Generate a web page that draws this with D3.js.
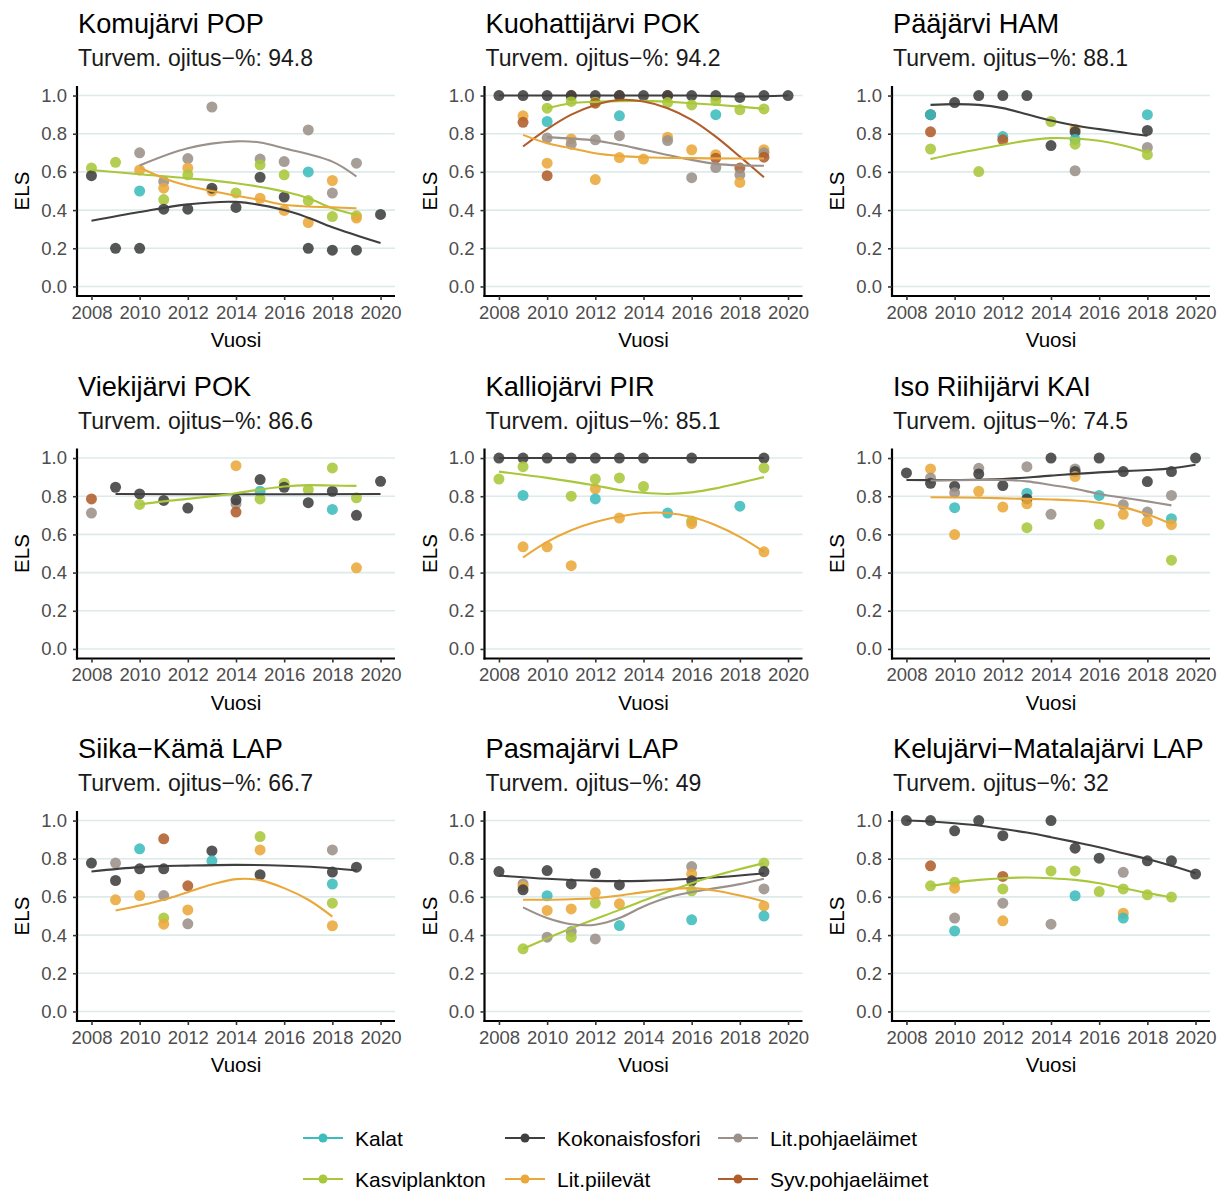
<!DOCTYPE html>
<html>
<head>
<meta charset="utf-8">
<title>ELS by lake</title>
<script src="https://cdn.jsdelivr.net/npm/d3@7"></script>
<style>
  body { margin: 0; background: #fff; font-family: "Liberation Sans", Arial, sans-serif; }
</style>
</head>
<body>
<script>
// ---- data ----
var lakes = ["Komujärvi POP", "Kuohattijärvi POK", "Pääjärvi HAM",
             "Viekijärvi POK", "Kalliojärvi PIR", "Iso Riihijärvi KAI",
             "Siika−Kämä LAP", "Pasmajärvi LAP", "Kelujärvi−Matalajärvi LAP"];
var drainPct = ["94.8", "94.2", "88.1", "86.6", "85.1", "74.5", "66.7", "49", "32"];

// group keys and names (legend order, column-wise)
var groupKeys  = ["Ka", "Kv", "Ko", "Pi", "Po", "Sy"];
var groupNames = ["Kalat", "Kasviplankton", "Kokonaisfosfori", "Lit.piilevät", "Lit.pohjaeläimet", "Syv.pohjaeläimet"];
var groupColors = ["#3dbcbc", "#a9c73b", "#3f3f3f", "#eba83a", "#9b918a", "#b05d2b"];

var xTicks = [2008, 2010, 2012, 2014, 2016, 2018, 2020];
var yTicks = [0, 0.2, 0.4, 0.6, 0.8, 1.0];

// points: [year, group, ELS]
var komuPts = [[2008,"Kv",.62],[2008,"Ko",.58],[2009,"Kv",.65],[2009,"Ko",.20],
  [2010,"Po",.70],[2010,"Pi",.61],[2010,"Ka",.50],[2010,"Ko",.20],
  [2011,"Po",.55],[2011,"Pi",.515],[2011,"Kv",.455],[2011,"Ko",.405],
  [2012,"Po",.67],[2012,"Pi",.62],[2012,"Kv",.585],[2012,"Ko",.405],
  [2013,"Po",.94],[2013,"Pi",.50],[2013,"Ko",.515],
  [2014,"Kv",.49],[2014,"Ko",.414],
  [2015,"Po",.667],[2015,"Kv",.637],[2015,"Ko",.572],[2015,"Pi",.462],
  [2016,"Po",.654],[2016,"Kv",.585],[2016,"Ko",.468],[2016,"Pi",.398],
  [2017,"Po",.82],[2017,"Ka",.60],[2017,"Kv",.45],[2017,"Pi",.335],[2017,"Ko",.20],
  [2018,"Pi",.555],[2018,"Po",.489],[2018,"Kv",.366],[2018,"Ko",.19],
  [2019,"Po",.646],[2019,"Kv",.37],[2019,"Pi",.358],[2019,"Ko",.19],
  [2020,"Ko",.377]];
var kuohPts = [[2008,"Ko",1],[2009,"Ko",1],[2009,"Pi",.894],[2009,"Sy",.86],
  [2010,"Ko",1],[2010,"Kv",.934],[2010,"Ka",.864],[2010,"Po",.777],[2010,"Pi",.646],[2010,"Sy",.58],
  [2011,"Sy",1],[2011,"Ko",1],[2011,"Kv",.969],[2011,"Pi",.773],[2011,"Po",.745],
  [2012,"Ko",1],[2012,"Kv",.965],[2012,"Sy",.96],[2012,"Po",.768],[2012,"Pi",.56],
  [2013,"Sy",1],[2013,"Ko",1],[2013,"Ka",.894],[2013,"Po",.79],[2013,"Pi",.675],
  [2014,"Ko",1],[2014,"Pi",.667],
  [2015,"Sy",1],[2015,"Ko",1],[2015,"Kv",.963],[2015,"Pi",.782],[2015,"Po",.764],
  [2016,"Ko",1],[2016,"Kv",.951],[2016,"Pi",.716],[2016,"Po",.57],
  [2017,"Ko",1],[2017,"Kv",.974],[2017,"Ka",.90],[2017,"Pi",.69],[2017,"Sy",.672],[2017,"Po",.623],
  [2018,"Ko",.99],[2018,"Kv",.925],[2018,"Sy",.62],[2018,"Po",.585],[2018,"Pi",.545],
  [2019,"Ko",1],[2019,"Kv",.93],[2019,"Pi",.716],[2019,"Po",.70],[2019,"Sy",.677],
  [2020,"Ko",1]];
var paajPts = [[2009,"Ko",.90],[2009,"Ka",.90],[2009,"Sy",.81],[2009,"Kv",.72],
  [2010,"Ko",.963],[2011,"Ko",1],[2011,"Kv",.602],
  [2012,"Ko",1],[2012,"Ka",.785],[2012,"Sy",.768],[2013,"Ko",1],
  [2014,"Kv",.864],[2014,"Ko",.738],
  [2015,"Pi",.824],[2015,"Ko",.81],[2015,"Ka",.77],[2015,"Kv",.745],[2015,"Po",.606],
  [2018,"Ka",.90],[2018,"Ko",.817],[2018,"Po",.728],[2018,"Kv",.69]];
var viekPts = [[2008,"Sy",.786],[2008,"Po",.712],[2009,"Ko",.847],
  [2010,"Ko",.812],[2010,"Kv",.757],[2011,"Ko",.778],[2012,"Ko",.738],
  [2014,"Pi",.96],[2014,"Po",.76],[2014,"Ko",.781],[2014,"Sy",.717],
  [2015,"Ko",.887],[2015,"Ka",.826],[2015,"Kv",.786],
  [2016,"Kv",.868],[2016,"Ko",.847],[2017,"Kv",.835],[2017,"Ko",.766],
  [2018,"Kv",.948],[2018,"Ko",.826],[2018,"Ka",.731],
  [2019,"Kv",.792],[2019,"Ko",.70],[2019,"Pi",.425],[2020,"Ko",.878]];
var kallPts = [[2008,"Ko",1],[2008,"Kv",.89],
  [2009,"Ko",1],[2009,"Kv",.955],[2009,"Ka",.804],[2009,"Pi",.535],
  [2010,"Ko",1],[2010,"Pi",.535],
  [2011,"Ko",1],[2011,"Kv",.80],[2011,"Pi",.436],
  [2012,"Ko",1],[2012,"Kv",.89],[2012,"Pi",.839],[2012,"Ka",.786],
  [2013,"Ko",1],[2013,"Kv",.896],[2013,"Pi",.686],
  [2014,"Ko",1],[2014,"Kv",.851],[2015,"Ka",.712],
  [2016,"Ko",1],[2016,"Kv",.67],[2016,"Pi",.656],[2018,"Ka",.748],
  [2019,"Ko",1],[2019,"Kv",.948],[2019,"Pi",.509]];
var isoPts = [[2008,"Ko",.922],
  [2009,"Pi",.943],[2009,"Po",.896],[2009,"Ko",.868],
  [2010,"Ko",.852],[2010,"Po",.818],[2010,"Ka",.74],[2010,"Pi",.599],
  [2011,"Po",.946],[2011,"Ko",.917],[2011,"Pi",.826],
  [2012,"Ko",.856],[2012,"Pi",.743],
  [2013,"Po",.955],[2013,"Ka",.816],[2013,"Ko",.786],[2013,"Pi",.76],[2013,"Kv",.635],
  [2014,"Ko",1],[2014,"Po",.705],
  [2015,"Po",.943],[2015,"Ko",.929],[2015,"Pi",.903],
  [2016,"Ko",1],[2016,"Ka",.804],[2016,"Kv",.653],
  [2017,"Ko",.929],[2017,"Po",.755],[2017,"Pi",.705],
  [2018,"Ko",.877],[2018,"Po",.717],[2018,"Pi",.668],
  [2019,"Ko",.929],[2019,"Po",.804],[2019,"Ka",.682],[2019,"Pi",.651],[2019,"Kv",.465],
  [2020,"Ko",1]];
var siikPts = [[2008,"Ko",.777],
  [2009,"Po",.777],[2009,"Ko",.686],[2009,"Pi",.585],
  [2010,"Ka",.852],[2010,"Ko",.747],[2010,"Pi",.607],
  [2011,"Sy",.904],[2011,"Ko",.747],[2011,"Po",.607],[2011,"Kv",.489],[2011,"Pi",.457],
  [2012,"Sy",.658],[2012,"Pi",.532],[2012,"Po",.459],
  [2013,"Ko",.841],[2013,"Ka",.789],
  [2015,"Kv",.916],[2015,"Pi",.846],[2015,"Ko",.716],
  [2018,"Po",.846],[2018,"Ko",.73],[2018,"Ka",.667],[2018,"Kv",.567],[2018,"Pi",.449],
  [2019,"Ko",.756]];
var pasmPts = [[2008,"Ko",.733],
  [2009,"Po",.668],[2009,"Pi",.654],[2009,"Ko",.637],[2009,"Kv",.328],
  [2010,"Ko",.738],[2010,"Ka",.606],[2010,"Pi",.529],[2010,"Po",.389],
  [2011,"Ko",.668],[2011,"Pi",.537],[2011,"Po",.419],[2011,"Kv",.389],
  [2012,"Ko",.724],[2012,"Pi",.623],[2012,"Kv",.567],[2012,"Po",.38],
  [2013,"Ko",.663],[2013,"Pi",.564],[2013,"Ka",.45],
  [2016,"Po",.759],[2016,"Pi",.72],[2016,"Ko",.684],[2016,"Kv",.632],[2016,"Ka",.48],
  [2019,"Kv",.777],[2019,"Ko",.733],[2019,"Po",.642],[2019,"Pi",.553],[2019,"Ka",.50]];
var keluPts = [[2008,"Ko",1],
  [2009,"Ko",1],[2009,"Sy",.763],[2009,"Kv",.658],
  [2010,"Ko",.946],[2010,"Kv",.677],[2010,"Pi",.646],[2010,"Po",.489],[2010,"Ka",.422],
  [2011,"Ko",1],
  [2012,"Ko",.921],[2012,"Sy",.707],[2012,"Kv",.642],[2012,"Po",.567],[2012,"Pi",.475],
  [2014,"Ko",1],[2014,"Kv",.736],[2014,"Po",.457],
  [2015,"Ko",.855],[2015,"Kv",.736],[2015,"Ka",.606],
  [2016,"Ko",.803],[2016,"Kv",.628],
  [2017,"Po",.729],[2017,"Kv",.642],[2017,"Pi",.515],[2017,"Ka",.489],
  [2018,"Ko",.789],[2018,"Kv",.611],
  [2019,"Ko",.789],[2019,"Kv",.599],
  [2020,"Ko",.72]];

// smoothed trend lines: group -> [[year, ELS], ...]
var komuFit = {
  Ko: [[2008,.344],[2010,.39],[2012,.43],[2014,.443],[2016,.40],[2017,.36],[2018,.31],[2020,.227]],
  Po: [[2010,.634],[2012,.724],[2014,.76],[2015,.754],[2016,.724],[2018,.654],[2019,.576]],
  Kv: [[2008,.61],[2010,.588],[2012,.567],[2014,.541],[2016,.497],[2017,.462],[2018,.41],[2019,.375]],
  Pi: [[2010,.623],[2011,.567],[2012,.527],[2013,.50],[2014,.475],[2015,.454],[2016,.428],[2017,.419],[2018,.414],[2019,.41]]};
var kuohFit = {
  Ko: [[2008,1],[2012,1],[2016,1],[2018,.995],[2020,1]],
  Kv: [[2010,.934],[2011,.96],[2012,.967],[2014,.972],[2016,.96],[2018,.942],[2019,.93]],
  Sy: [[2009,.733],[2010,.824],[2011,.90],[2012,.951],[2013,.977],[2014,.969],[2015,.934],[2016,.873],[2017,.785],[2018,.68],[2019,.572]],
  Po: [[2010,.782],[2012,.764],[2013,.742],[2014,.716],[2016,.663],[2017,.642],[2018,.634],[2019,.632]],
  Pi: [[2009,.794],[2010,.75],[2011,.724],[2012,.698],[2013,.684],[2014,.677],[2016,.672],[2018,.67],[2019,.67]]};
var paajFit = {
  Ko: [[2009,.951],[2010,.955],[2011,.951],[2012,.934],[2013,.902],[2014,.869],[2015,.843],[2016,.824],[2017,.806],[2018,.789]],
  Kv: [[2009,.667],[2010,.695],[2011,.719],[2012,.742],[2013,.764],[2014,.777],[2015,.775],[2016,.763],[2017,.738],[2018,.702]]};
var viekFit = {
  Ko: [[2009,.812],[2014,.81],[2020,.812]],
  Kv: [[2010,.757],[2011,.773],[2012,.786],[2013,.80],[2014,.816],[2015,.835],[2016,.851],[2017,.858],[2018,.856],[2019,.854]]};
var kallFit = {
  Ko: [[2008,1],[2013,1],[2019,1]],
  Kv: [[2008,.929],[2010,.896],[2012,.856],[2013,.833],[2014,.818],[2015,.812],[2016,.82],[2017,.841],[2018,.87],[2019,.90]],
  Pi: [[2009,.479],[2010,.561],[2011,.622],[2012,.665],[2013,.694],[2014,.712],[2015,.712],[2016,.691],[2017,.648],[2018,.587],[2019,.509]]};
var isoFit = {
  Ko: [[2008,.885],[2010,.885],[2012,.89],[2014,.908],[2016,.925],[2018,.937],[2019,.946],[2020,.965]],
  Po: [[2009,.882],[2011,.885],[2012,.885],[2013,.878],[2014,.859],[2015,.839],[2016,.812],[2017,.792],[2018,.773],[2019,.752]],
  Pi: [[2009,.795],[2011,.792],[2013,.786],[2014,.783],[2015,.778],[2016,.766],[2017,.743],[2018,.705],[2019,.653]]};
var siikFit = {
  Ko: [[2008,.733],[2010,.756],[2012,.764],[2014,.768],[2016,.763],[2018,.75],[2019,.738]],
  Pi: [[2009,.529],[2010,.555],[2011,.585],[2012,.625],[2013,.665],[2014,.693],[2015,.688],[2016,.646],[2017,.585],[2018,.497]]};
var pasmFit = {
  Ko: [[2008,.712],[2010,.695],[2012,.684],[2014,.684],[2016,.695],[2018,.712],[2019,.724]],
  Kv: [[2009,.328],[2011,.436],[2013,.532],[2015,.628],[2016,.672],[2017,.712],[2019,.777]],
  Po: [[2009,.545],[2010,.489],[2011,.457],[2012,.454],[2013,.489],[2014,.55],[2015,.597],[2016,.625],[2017,.646],[2018,.667],[2019,.695]],
  Pi: [[2009,.585],[2010,.585],[2011,.588],[2012,.593],[2013,.607],[2014,.625],[2015,.64],[2016,.646],[2017,.632],[2018,.607],[2019,.576]]};
var keluFit = {
  Ko: [[2008,1],[2009,.995],[2010,.986],[2011,.974],[2012,.956],[2013,.937],[2014,.913],[2015,.887],[2016,.86],[2017,.829],[2018,.798],[2019,.763],[2020,.724]],
  Kv: [[2009,.658],[2010,.675],[2011,.689],[2012,.698],[2013,.702],[2014,.698],[2015,.689],[2016,.672],[2017,.646],[2018,.62],[2019,.597]]};

var panelPts = [komuPts, kuohPts, paajPts, viekPts, kallPts, isoPts, siikPts, pasmPts, keluPts];
var panelFit = [komuFit, kuohFit, paajFit, viekFit, kallFit, isoFit, siikFit, pasmFit, keluFit];

// ---- layout ----
var W = 1231, H = 1193;
var plotW = 318, plotH = 210;
var colX = [77, 484.5, 892];
var rowY = [86, 448.5, 811];

var color = d3.scaleOrdinal().domain(groupKeys).range(groupColors);

var svg = d3.select("body").append("svg")
    .attr("width", W)
    .attr("height", H)
    .style("font-family", "'Liberation Sans', Arial, sans-serif");

var x = d3.scaleLinear().domain([2007.4, 2020.6]).range([0, plotW]);
var y = d3.scaleLinear().domain([-0.05, 1.05]).range([plotH, 0]);

var fitLine = d3.line()
    .x(function(d) { return x(d[0]); })
    .y(function(d) { return y(d[1]); })
    .curve(d3.curveCatmullRom.alpha(0.5));

lakes.forEach(function(lake, i) {
  var g = svg.append("g")
      .attr("transform", "translate(" + colX[i % 3] + "," + rowY[Math.floor(i / 3)] + ")");

  // titles
  g.append("text").attr("x", 1).attr("y", -53)
      .style("font-size", "27.2px").attr("fill", "#000").text(lake);
  g.append("text").attr("x", 1).attr("y", -20)
      .style("font-size", "23px").attr("fill", "#1a1a1a").text("Turvem. ojitus−%: " + drainPct[i]);

  // grid
  g.selectAll(".grid").data(yTicks).enter().append("line")
      .attr("x1", 0).attr("x2", plotW)
      .attr("y1", function(d) { return y(d); }).attr("y2", function(d) { return y(d); })
      .attr("stroke", "#dcebea").attr("stroke-width", 1.6);

  // points
  g.selectAll(".pt").data(panelPts[i]).enter().append("circle")
      .attr("cx", function(d) { return x(d[0]); })
      .attr("cy", function(d) { return y(d[2]); })
      .attr("r", 5.5)
      .attr("fill", function(d) { return color(d[1]); })
      .attr("fill-opacity", 0.88);

  // smooth lines
  var fits = panelFit[i];
  Object.keys(fits).forEach(function(k) {
    g.append("path").datum(fits[k])
        .attr("d", fitLine)
        .attr("fill", "none")
        .attr("stroke", color(k))
        .attr("stroke-width", 2.1);
  });

  // axes
  var xAxis = g.append("g").attr("transform", "translate(0," + plotH + ")")
      .call(d3.axisBottom(x).tickValues(xTicks).tickFormat(d3.format("d")).tickSize(4).tickSizeOuter(0));
  var yAxis = g.append("g")
      .call(d3.axisLeft(y).tickValues(yTicks).tickFormat(d3.format(".1f")).tickSize(4).tickSizeOuter(0));
  [xAxis, yAxis].forEach(function(a) {
    a.select(".domain").attr("stroke", "#000").attr("stroke-width", 2.2);
    a.selectAll(".tick line").attr("stroke", "#333").attr("stroke-width", 1.6);
    a.selectAll(".tick text").attr("fill", "#4d4d4d").style("font-size", "18.5px")
        .style("font-family", "'Liberation Sans', Arial, sans-serif");
  });
  xAxis.select(".domain").attr("d", "M-1,0H" + plotW);
  yAxis.select(".domain").attr("d", "M0," + (plotH + 1) + "V0");
  xAxis.selectAll(".tick text").attr("dy", "0.95em").attr("y", 5);
  yAxis.selectAll(".tick text").attr("x", -10);

  g.append("text").attr("x", plotW / 2).attr("y", plotH + 51)
      .attr("text-anchor", "middle").style("font-size", "20.5px").text("Vuosi");
  g.append("text")
      .attr("transform", "translate(" + (-48) + "," + (plotH / 2) + ") rotate(-90)")
      .attr("text-anchor", "middle").style("font-size", "20.5px").text("ELS");
});

// legend (3 columns x 2 rows, filled column-wise)
var legX = [303, 505, 718], legY = [1138, 1179];
var leg = svg.selectAll(".leg").data(groupKeys).enter().append("g")
    .attr("transform", function(d, i) {
      return "translate(" + legX[Math.floor(i / 2)] + "," + legY[i % 2] + ")";
    });
leg.append("line").attr("x1", 0).attr("x2", 40)
    .attr("stroke", function(d) { return color(d); }).attr("stroke-width", 2.1);
leg.append("circle").attr("cx", 20).attr("r", 4.5)
    .attr("fill", function(d) { return color(d); });
leg.append("text").attr("x", 52).attr("dy", "0.36em")
    .style("font-size", "21px").attr("fill", "#000")
    .text(function(d, i) { return groupNames[i]; });
</script>
</body>
</html>
